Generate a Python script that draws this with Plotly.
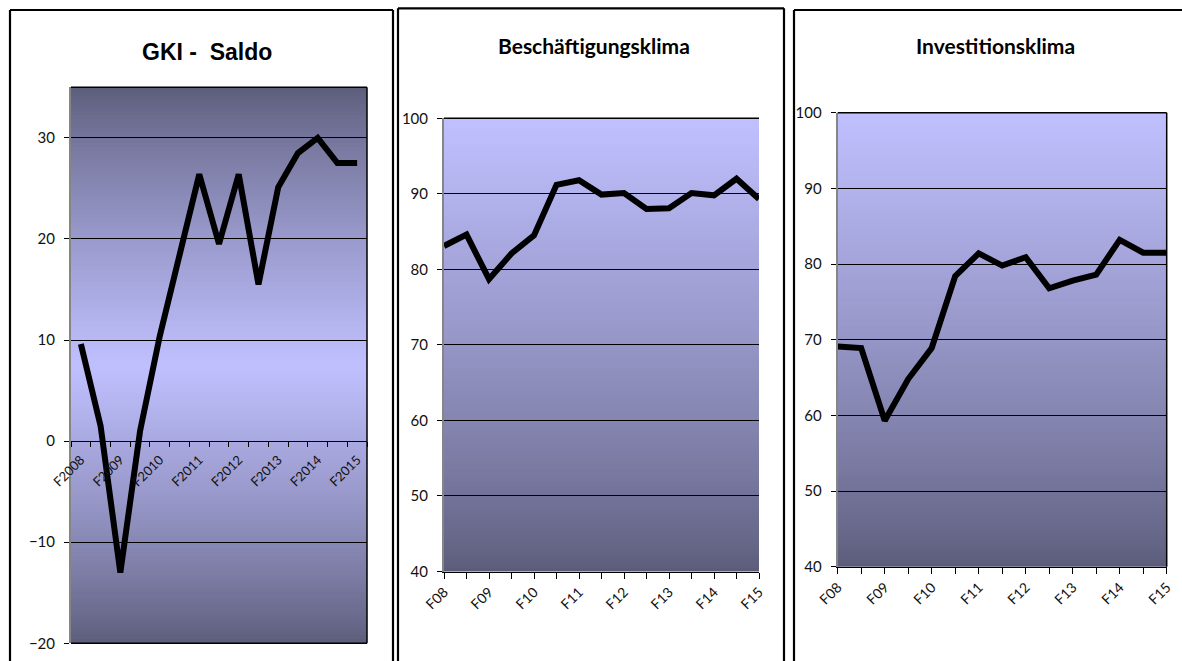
import plotly.graph_objects as go

W, H = 1182, 661

# Half-yearly survey waves (Frühjahr / Herbst), 2008 - 2015
waves = ["F08", "H08", "F09", "H09", "F10", "H10", "F11", "H11",
         "F12", "H12", "F13", "H13", "F14", "H14", "F15"]
labels_long = ["F2008", "F2009", "F2010", "F2011", "F2012", "F2013", "F2014", "F2015"]
labels_short = ["F08", "F09", "F10", "F11", "F12", "F13", "F14", "F15"]

gki_saldo = [9.6, 1.5, -13.0, 1.0, 10.4, 18.7, 26.4, 19.5, 26.4, 15.5,
             25.1, 28.5, 30.0, 27.5, 27.5]
beschaeftigung = [83.1, 84.6, 78.7, 82.1, 84.5, 91.2, 91.8, 89.9, 90.1, 88.0,
                  88.1, 90.1, 89.8, 92.0, 89.3]
investition = [69.1, 68.9, 59.3, 64.8, 68.9, 78.4, 81.4, 79.8, 80.9, 76.8,
               77.8, 78.6, 83.2, 81.5, 81.5]

titles = ["GKI -  Saldo", "Beschäftigungsklima", "Investitionsklima"]


def px_x(v):
    return v / W


def px_y(v):
    return 1 - v / H


# plot-area rectangles in pixels: (left, right, top, bottom)
areas = [(71, 367, 87.3, 643.3), (444, 759, 118.3, 571.5), (837.7, 1166.7, 112.7, 566.7)]
doms = [([px_x(a[0]), px_x(a[1])], [px_y(a[3]), px_y(a[2])]) for a in areas]

LIGHT = (192, 192, 255)
DARK = (91, 91, 121)
TICKFONT = dict(family="Lato, Noto Sans, sans-serif", size=15, color="#111111")

fig = go.Figure()
xidx = list(range(len(waves)))
series = [gki_saldo, beschaeftigung, investition]
for k, ys in enumerate(series):
    suffix = "" if k == 0 else str(k + 1)
    fig.add_trace(go.Scatter(
        x=xidx, y=ys, mode="lines", xaxis="x" + suffix, yaxis="y" + suffix,
        line=dict(color="black", width=6), hoverinfo="skip", showlegend=False,
        text=waves,
    ))


def mix(f):
    return "rgb(%d,%d,%d)" % tuple(round(d + (l - d) * f) for l, d in zip(LIGHT, DARK))


# vertical gradient fill of each plot area, built from thin bands
shapes = []
N = 140
for k in range(3):
    suffix = "" if k == 0 else str(k + 1)
    for b in range(N):
        t = (b + 0.5) / N  # 0 at bottom, 1 at top
        if k == 0:
            f = (1 - abs(2 * t - 1)) ** 0.8
        else:
            f = t ** 0.8
        shapes.append(dict(
            type="rect", xref="x%s domain" % suffix, yref="y%s domain" % suffix,
            x0=0, x1=1, y0=b / N, y1=min(1, (b + 1.6) / N),
            fillcolor=mix(f), line=dict(width=0), layer="below",
        ))

# plot-area borders
for k, sides in enumerate([("top", "right", "bottom"), ("top",), ("top", "right")]):
    suffix = "" if k == 0 else str(k + 1)
    xr, yr = "x%s domain" % suffix, "y%s domain" % suffix
    for s in sides:
        if s == "top":
            c = dict(x0=0, x1=1, y0=1, y1=1)
        elif s == "bottom":
            c = dict(x0=0, x1=1, y0=0, y1=0)
        else:
            c = dict(x0=1, x1=1, y0=0, y1=1)
        shapes.append(dict(type="line", xref=xr, yref=yr, line=dict(color="black", width=1.5), **c))

# outer panel frames (open at the bottom; the last one also open on the right)
frames = [(10, 393, 10), (398, 784, 8.3), (794, None, 10)]
FRAME = dict(color="black", width=2.2)
for l, r, t in frames:
    top = px_y(t)
    xr_end = px_x(r) if r is not None else 1
    shapes.append(dict(type="line", xref="paper", yref="paper",
                       x0=px_x(l), x1=px_x(l), y0=0, y1=top, line=FRAME))
    shapes.append(dict(type="line", xref="paper", yref="paper",
                       x0=px_x(l), x1=xr_end, y0=top, y1=top, line=FRAME))
    if r is not None:
        shapes.append(dict(type="line", xref="paper", yref="paper",
                           x0=px_x(r), x1=px_x(r), y0=0, y1=top, line=FRAME))

yranges = [[-20, 35], [40, 100], [40, 100]]
ytickv = [list(range(-20, 31, 10)), list(range(40, 101, 10)), list(range(40, 101, 10))]

layout = dict(
    width=W, height=H, margin=dict(l=0, r=0, t=0, b=0, autoexpand=False),
    paper_bgcolor="white", plot_bgcolor="rgba(0,0,0,0)",
    showlegend=False, shapes=shapes,
)

for k in range(3):
    suffix = "" if k == 0 else str(k + 1)
    xd, yd = doms[k]
    yax = dict(
        domain=yd, anchor="x" + suffix, range=yranges[k], tickmode="array",
        tickvals=ytickv[k], showgrid=True, gridcolor="black", gridwidth=1,
        ticks="outside", ticklen=5, tickcolor="black", tickwidth=1,
        showline=True, linecolor="#858585", linewidth=2, zeroline=False,
        tickfont=TICKFONT, ticklabelstandoff=6, fixedrange=True,
    )
    if k == 0:
        ylo, yhi = yranges[0]
        zero_pos = yd[0] + (0 - ylo) / (yhi - ylo) * (yd[1] - yd[0])
        xax = dict(
            domain=xd, anchor="free", position=zero_pos, range=[-0.5, 14.5],
            tickmode="array", tickvals=list(range(0, 15, 2)), ticktext=labels_long,
            tickangle=-45, ticks="outside", ticklen=5, tickcolor="rgba(0,0,0,0)",
            showgrid=False, zeroline=False, showline=False,
            minor=dict(tickmode="array", tickvals=[i - 0.5 for i in range(16)],
                       ticks="outside", ticklen=5, tickcolor="black", tickwidth=1,
                       showgrid=False),
            tickfont=dict(TICKFONT, size=13), fixedrange=True,
        )
    else:
        xax = dict(
            domain=xd, anchor="y" + suffix, range=[0, 14], tickmode="array",
            tickvals=xidx, ticktext=[w if w.startswith("F") else "" for w in waves],
            tickangle=-45, ticks="outside", ticklen=6, tickcolor="black", tickwidth=1,
            showgrid=False, zeroline=False, showline=True, linecolor="black", linewidth=1,
            tickfont=dict(TICKFONT, size=14), fixedrange=True,
        )
    layout["xaxis" + suffix] = xax
    layout["yaxis" + suffix] = yax

title_pos = [(207, 52), (594, 45), (995, 45)]
title_fonts = [
    dict(family="Liberation Sans, Arial, sans-serif", size=23, color="black"),
    dict(family="Lato, Noto Sans, sans-serif", size=21, color="black"),
    dict(family="Lato, Noto Sans, sans-serif", size=21, color="black"),
]
layout["annotations"] = [
    dict(text="<b>%s</b>" % t, xref="paper", yref="paper", x=px_x(x), y=px_y(y),
         xanchor="center", yanchor="middle", showarrow=False, font=f)
    for t, (x, y), f in zip(titles, title_pos, title_fonts)
]

fig.update_layout(**layout)
# the page body has no margin, so the 1182x661 figure fills the window exactly
fig.write_html("out.html", config={"displayModeBar": False},
               post_script="document.body.style.margin='0px';")
